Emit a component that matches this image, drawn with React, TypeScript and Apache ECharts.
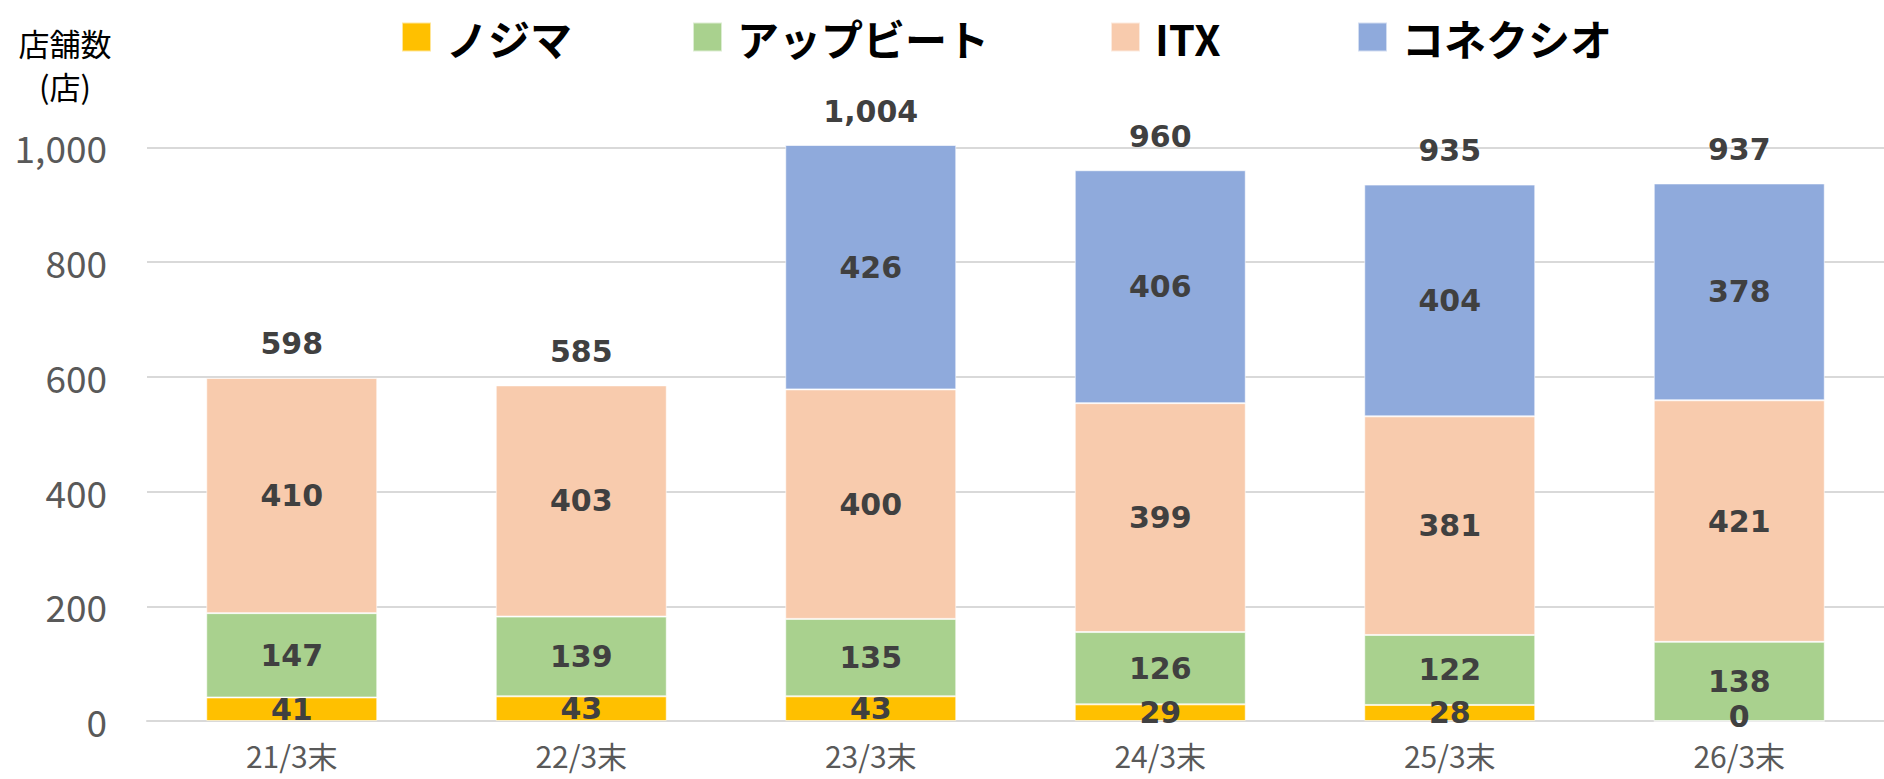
import React, { useEffect, useRef } from "react";
import * as echarts from "echarts";

const categories = ["21/3末", "22/3末", "23/3末", "24/3末", "25/3末", "26/3末"];
const nojima = [41, 43, 43, 29, 28, 0];
const appbeat = [147, 139, 135, 126, 122, 138];
const itx = [410, 403, 400, 399, 381, 421];
const conexio = [null, null, 426, 406, 404, 378];
const totals = [598, 585, 1004, 960, 935, 937];
const seriesNames = ["ノジマ", "アップビート", "ITX", "コネクシオ"];
const seriesColors = ["#FFC000", "#A9D18E", "#F8CBAD", "#8FAADC"];
const legendLefts = [396, 687, 1105, 1352];
const yTicks = { min: 0, max: 1000, interval: 200 };

export default function App() {
  const ref = useRef<HTMLDivElement>(null);
  useEffect(() => {
    if (!ref.current) return;
    const chart = echarts.init(ref.current, undefined, { renderer: "svg" });
    const labelStyle = {
      show: true,
      position: "inside",
      fontFamily: "DejaVu Sans",
      fontWeight: "bold",
      fontSize: 30,
      color: "#404040",
    };
    const values = [nojima, appbeat, itx, conexio];
    const stacked = values.map((d, i) => ({
      name: seriesNames[i],
      type: "bar",
      stack: "total",
      data: d.map((v) =>
        v === 0 ? { value: v, label: { offset: [0, -5] } } : v
      ),
      barWidth: 171,
      barGap: "-100%",
      clip: false,
      itemStyle: {
        color: seriesColors[i],
        borderColor: "rgba(255,255,255,0.6)",
        borderWidth: 1,
      },
      label: labelStyle,
    }));
    const legends = seriesNames.map((n, i) => ({
      data: [n],
      left: legendLefts[i],
      top: 11,
      icon: "rect",
      itemWidth: 29,
      itemHeight: 29,
      selectedMode: false,
      textStyle: {
        fontFamily: "Noto Sans CJK JP",
        fontWeight: "bold",
        fontSize: 42,
        color: "#000",
        padding: [0, 0, 0, 10],
      },
    }));
    chart.setOption({
      animation: false,
      textStyle: { fontFamily: "Noto Sans CJK JP" },
      legend: legends,
      grid: { left: 147, top: 147.3, width: 1743, height: 573.7 },
      xAxis: {
        type: "category",
        data: categories,
        axisLine: { show: true, lineStyle: { color: "#D9D9D9", width: 2 } },
        axisTick: { show: false },
        axisLabel: {
          margin: 19,
          fontSize: 30,
          color: "#595959",
          fontFamily: "Noto Sans CJK JP",
        },
      },
      yAxis: {
        type: "value",
        min: yTicks.min,
        max: yTicks.max,
        interval: yTicks.interval,
        axisLine: { show: false },
        axisTick: { show: false },
        splitLine: { lineStyle: { color: "#D9D9D9", width: 2 } },
        axisLabel: {
          margin: 40,
          fontSize: 37,
          color: "#595959",
          fontFamily: "Noto Sans CJK JP",
        },
      },
      graphic: [
        {
          type: "text",
          x: 65,
          y: 21,
          style: {
            text: "店舗数\n(店)",
            font: "31px 'Noto Sans CJK JP'",
            fill: "#000",
            align: "center",
            verticalAlign: "top",
            lineHeight: 43,
          },
        },
      ],
      series: [
        ...stacked,
        {
          name: "合計",
          type: "bar",
          data: totals,
          barWidth: 171,
          barGap: "-100%",
          clip: false,
          silent: true,
          itemStyle: { color: "rgba(0,0,0,0)" },
          label: {
            show: true,
            position: "top",
            distance: 19,
            fontFamily: "DejaVu Sans",
            fontWeight: "bold",
            fontSize: 30,
            color: "#404040",
            formatter: (p: any) => Number(p.value).toLocaleString("en-US"),
          },
        },
      ],
    });
    return () => chart.dispose();
  }, []);
  return (
    <div
      ref={ref}
      style={{ position: "absolute", left: 0, top: 0, width: 1884, height: 779 }}
    />
  );
}
